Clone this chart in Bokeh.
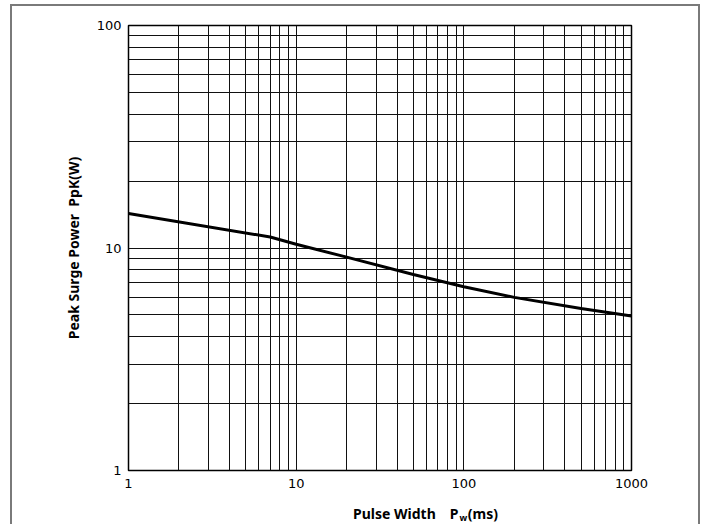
from bokeh.plotting import figure
from bokeh.models import FixedTicker, LogAxis, Range1d
from bokeh.embed import file_html
from bokeh.resources import INLINE

# ---- data ----
pulse_width_ms = [1, 7, 10, 20, 50, 100, 200, 500, 1000]
peak_power_w = [14.3, 11.2, 10.4, 9.1, 7.6, 6.7, 6.0, 5.35, 4.95]

x_major = [1, 10, 100, 1000]
y_major = [1, 10, 100]
x_minor = [m * d for d in (1, 10, 100) for m in range(2, 10)]
y_minor = [m * d for d in (1, 10) for m in range(2, 10)]
x_labels = ["1", "10", "100", "1000"]
y_labels = ["1", "10", "100"]

x_title_main = "Pulse Width\u2003P\u2002\u2009(ms)"
x_title_sub = "w"
y_title = "Peak Surge Power\u00a0\u00a0PpK(W)"

# ---- layout ----
W, H = 690, 520
ML, MR, MT, MB = 116, 71, 19, 55

p = figure(width=W, height=H, x_axis_type="log", y_axis_type="log",
           x_range=Range1d(1, 1000), y_range=Range1d(1, 100),
           output_backend="svg", toolbar_location=None,
           min_border_left=ML, min_border_right=MR,
           min_border_top=MT, min_border_bottom=MB,
           margin=(4, 0, 0, 10),
           styles={"border-left": "2px solid #7a7a7a",
                   "border-right": "2px solid #7a7a7a",
                   "border-top": "2px solid #7a7a7a"})
p.background_fill_color = "white"
p.border_fill_color = "white"
p.outline_line_color = "black"
p.outline_line_width = 1.5

p.xaxis.ticker = FixedTicker(ticks=x_major, minor_ticks=x_minor)
p.yaxis.ticker = FixedTicker(ticks=y_major, minor_ticks=y_minor)
p.xaxis.major_label_overrides = {v: s for v, s in zip(x_major, x_labels)}
p.yaxis.major_label_overrides = {v: s for v, s in zip(y_major, y_labels)}

for ax in (p.xaxis, p.yaxis):
    ax.axis_line_color = None
    ax.major_tick_line_color = None
    ax.minor_tick_line_color = None
    ax.major_tick_out = 0
    ax.minor_tick_out = 0
    ax.major_label_text_font = "DejaVu Sans"
    ax.major_label_text_font_size = "13px"
    ax.major_label_text_color = "black"
    ax.axis_label_text_font = "Noto Sans"
    ax.axis_label_text_font_style = "bold"
    ax.axis_label_text_font_size = "14px"
    ax.axis_label_text_color = "black"
p.xaxis.major_label_standoff = 8
p.yaxis.major_label_standoff = 7

p.xaxis.axis_label = "\u2003" * 6 + "\u2002" + x_title_main
p.xaxis.axis_label_standoff = 13
p.yaxis.axis_label = y_title
p.yaxis.axis_label_standoff = 11

# second (label-only) axis carrying the subscript "w"
sub_axis = LogAxis(ticker=FixedTicker(ticks=[]), axis_line_color=None,
                   major_tick_line_color=None, minor_tick_line_color=None,
                   major_tick_out=0, minor_tick_out=0, major_label_standoff=0,
                   major_label_text_font_size="0px",
                   axis_label="\u2003" * 18 + "\u2002" + x_title_sub,
                   axis_label_standoff=-15,
                   axis_label_text_font="Noto Sans", axis_label_text_font_style="bold",
                   axis_label_text_font_size="9px", axis_label_text_color="black")
p.add_layout(sub_axis, "below")

for g in (p.xgrid, p.ygrid):
    g.grid_line_color = "#111111"
    g.grid_line_width = 1
    g.minor_grid_line_color = "#111111"
    g.minor_grid_line_width = 1

p.line(pulse_width_ms, peak_power_w, line_color="black", line_width=3)

open("out.html", "w").write(file_html(p, INLINE))
